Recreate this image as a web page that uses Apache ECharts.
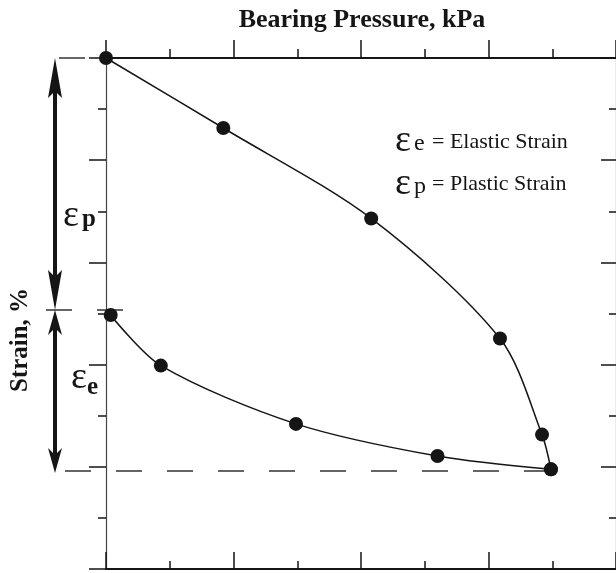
<!DOCTYPE html>
<html>
<head>
<meta charset="utf-8">
<script src="https://cdn.jsdelivr.net/npm/echarts@6/dist/echarts.min.js"></script>
<style>
html,body{margin:0;padding:0;background:#fff;}
#c{width:616px;height:573px;}
</style>
</head>
<body>
<div id="c"></div>
<script>
// Loading branch (bearing pressure, strain %)
const loadPressure = [0, 92, 208, 309, 342, 349];
const loadStrain   = [0, 1.37, 3.14, 5.49, 7.37, 8.05];
// Unloading branch
const unloadPressure = [349, 260, 149, 43, 3.7];
const unloadStrain   = [8.05, 7.79, 7.16, 6.02, 5.03];
// Reference strain levels: start, plastic strain level, total strain level
const refLevels = [0, 4.93, 8.08];
const elasticArrowEnd = 8.12;

const titleText = 'Bearing Pressure, kPa';
const yTitleText = 'Strain, %';

const chart = echarts.init(document.getElementById('c'), null, {renderer:'canvas'});
const SERIF = '"Liberation Serif","Times New Roman",serif';
const INK = '#151515';

function axisBase(pos, inside, tl, ml, lineW, lineC) {
  return {
    type: 'value', position: pos,
    axisLine: {show: true, onZero: false, lineStyle: {color: lineC, width: lineW}},
    axisTick: {show: true, inside: inside, length: tl, lineStyle: {color: INK, width: 1.5}},
    minorTick: {show: true, splitNumber: 2, length: ml, lineStyle: {color: INK, width: 1.5}},
    axisLabel: {show: false},
    splitLine: {show: false}
  };
}

const xTop = Object.assign(axisBase('top', false, 18, 9, 2.2, INK), {min: 0, max: 400, interval: 100});
const xBot = Object.assign(axisBase('bottom', true, 17, 8, 2.2, INK), {min: 0, max: 400, interval: 100});
const yLeft = Object.assign(axisBase('left', false, 17, 8, 1.2, '#444'), {min: 0, max: 10, interval: 2, inverse: true});
const yRight = Object.assign(axisBase('right', true, 15, 7, 1.2, '#444'), {min: 0, max: 10, interval: 2, inverse: true});

const lineCommon = {
  type: 'line', xAxisIndex: 0, yAxisIndex: 0, smooth: 0.3,
  symbol: 'circle', symbolSize: 14,
  itemStyle: {color: INK},
  lineStyle: {color: INK, width: 1.5},
  clip: false, z: 5
};

chart.setOption({
  animation: false,
  backgroundColor: '#fff',
  grid: {left: 106, top: 58, width: 512, height: 511, containLabel: false},
  xAxis: [xTop, xBot],
  yAxis: [yLeft, yRight],
  series: [
    Object.assign({}, lineCommon, {data: loadPressure.map((p, i) => [p, loadStrain[i]])}),
    Object.assign({}, lineCommon, {data: unloadPressure.map((p, i) => [p, unloadStrain[i]])})
  ]
});

function py(level) { return chart.convertToPixel({seriesIndex: 0}, [0, level])[1]; }
function px(val) { return chart.convertToPixel({seriesIndex: 0}, [val, 0])[0]; }

const g = [];
const dash = {stroke: '#333', lineWidth: 1.5, lineDash: [26, 25]};
// dashed reference lines
g.push({type: 'line', shape: {x1: 59, y1: py(refLevels[0]), x2: px(0), y2: py(refLevels[0])}, style: dash, z: 1});
g.push({type: 'line', shape: {x1: 46, y1: py(refLevels[1]), x2: 123, y2: py(refLevels[1])}, style: dash, z: 1});
g.push({type: 'line', shape: {x1: 65, y1: py(refLevels[2]), x2: px(loadPressure[loadPressure.length - 1]), y2: py(refLevels[2])}, style: dash, z: 1});

// double headed arrows
const AX = 55;
function arrow(yTop, yBot, L) {
  const W = 7, N = 7;
  g.push({type: 'rect', shape: {x: AX - 2, y: yTop + L - N, width: 4, height: (yBot - yTop) - 2 * (L - N)}, style: {fill: INK}, z: 3});
  g.push({type: 'polygon', shape: {points: [[AX, yTop], [AX - W, yTop + L], [AX, yTop + L - N], [AX + W, yTop + L]]}, style: {fill: INK}, z: 3});
  g.push({type: 'polygon', shape: {points: [[AX, yBot], [AX - W, yBot - L], [AX, yBot - L + N], [AX + W, yBot - L]]}, style: {fill: INK}, z: 3});
}
arrow(py(refLevels[0]), py(refLevels[1]), 40);
arrow(py(refLevels[1]), py(elasticArrowEnd), 25);

function txt(x, baseline, text, size, weight, align) {
  g.push({type: 'text', x: x, y: baseline - 0.13 * size, z: 10,
    style: {text: text, fill: INK, font: (weight || 'normal') + ' ' + size + 'px ' + SERIF,
      align: align || 'left', verticalAlign: 'middle'}});
}
// big labels
txt(63, 221, 'ε', 38);
txt(82, 223, 'p', 25, 'bold');
txt(71, 383, 'ε', 38);
txt(87, 391, 'e', 25, 'bold');
// legend
txt(395, 146, 'ε', 38);
txt(414, 147, 'e', 24);
txt(432, 145, '= Elastic Strain', 22);
txt(395, 189, 'ε', 38);
txt(414, 190, 'p', 24);
txt(432, 187, '= Plastic Strain', 22);

// titles
g.push({type: 'text', x: 362, y: 20, z: 10,
  style: {text: titleText, fill: INK, font: 'bold 26px ' + SERIF, align: 'center', verticalAlign: 'middle'}});
g.push({type: 'text', x: 21, y: 340, rotation: Math.PI / 2, z: 10,
  style: {text: yTitleText, fill: INK, font: 'bold 25px ' + SERIF, align: 'center', verticalAlign: 'middle'}});

chart.setOption({graphic: g});
</script>
</body>
</html>
